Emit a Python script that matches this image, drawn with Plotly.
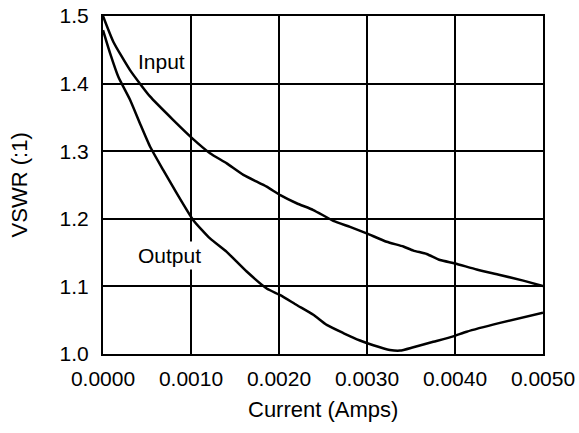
import plotly.graph_objects as go

input_x = [0, 0.000117, 0.000307, 0.000534, 0.000799, 0.001015, 0.001216, 0.001406, 0.001595, 0.00186,
           0.002015, 0.0022, 0.00239, 0.002617, 0.002807, 0.002996, 0.003223, 0.003413, 0.003527, 0.003678,
           0.00383, 0.004, 0.004246, 0.004511, 0.004776, 0.005]
input_y = [1.5, 1.462, 1.420, 1.381, 1.346, 1.319, 1.297, 1.282, 1.265, 1.2475,
           1.235, 1.223, 1.213, 1.197, 1.188, 1.1785, 1.166, 1.159, 1.153, 1.148,
           1.139, 1.134, 1.125, 1.117, 1.1085, 1.1006]

output_x = [0, 0.00008, 0.000174, 0.000307, 0.00042, 0.000534, 0.000685, 0.000837, 0.001026, 0.001216,
            0.001406, 0.001633, 0.00186, 0.002015, 0.0022, 0.00239, 0.002542, 0.00273, 0.00292, 0.003072,
            0.00326, 0.003375, 0.003527, 0.003753, 0.00398, 0.004133, 0.004511, 0.005]
output_y = [1.479, 1.445, 1.410, 1.376, 1.341, 1.307, 1.272, 1.238, 1.198, 1.171,
            1.151, 1.122, 1.097, 1.087, 1.0725, 1.058, 1.043, 1.031, 1.020, 1.013,
            1.006, 1.005, 1.010, 1.018, 1.026, 1.033, 1.046, 1.061]

x_ticks = [0, 0.001, 0.002, 0.003, 0.004, 0.005]
x_tick_text = ["0.0000", "0.0010", "0.0020", "0.0030", "0.0040", "0.0050"]
y_ticks = [1.0, 1.1, 1.2, 1.3, 1.4, 1.5]
y_tick_text = ["1.0", "1.1", "1.2", "1.3", "1.4", "1.5"]

FONT = "Liberation Sans, Arial, Helvetica, sans-serif"

fig = go.Figure()
fig.add_trace(go.Scatter(x=input_x, y=input_y, mode="lines", name="Input",
                         line=dict(color="black", width=2.5, shape="spline", smoothing=0.5),
                         cliponaxis=False, showlegend=False))
fig.add_trace(go.Scatter(x=output_x, y=output_y, mode="lines", name="Output",
                         line=dict(color="black", width=2.5, shape="spline", smoothing=0.5),
                         cliponaxis=False, showlegend=False))

fig.add_annotation(x=0.00067, y=1.432, text="Input", showarrow=False,
                   font=dict(family=FONT, size=21, color="black"), bgcolor="white", borderpad=0)
fig.add_annotation(x=0.000761, y=1.1464, text="Output", showarrow=False,
                   font=dict(family=FONT, size=21, color="black"), bgcolor="white", borderpad=2)

# axis titles
fig.add_annotation(xref="paper", yref="paper", x=0.5, y=-0.165, text="Current (Amps)",
                   showarrow=False, xanchor="center", yanchor="middle",
                   font=dict(family=FONT, size=22, color="black"))
fig.add_annotation(xref="paper", yref="paper", x=-0.19, y=0.5, text="VSWR (:1)", textangle=-90,
                   showarrow=False, xanchor="center", yanchor="middle",
                   font=dict(family=FONT, size=22, color="black"))

axis_common = dict(showgrid=True, gridcolor="black", gridwidth=1.5, showline=True, linecolor="black",
                   linewidth=2, mirror=True, zeroline=False, ticks="", automargin=False,
                   tickfont=dict(family=FONT, size=21, color="black"))

fig.update_xaxes(range=[0, 0.005], tickvals=x_ticks, ticktext=x_tick_text,
                 ticklabelstandoff=5, **axis_common)
fig.update_yaxes(range=[1.0, 1.5], tickvals=y_ticks, ticktext=y_tick_text,
                 ticklabelstandoff=8, **axis_common)

fig.update_layout(width=579, height=433, margin=dict(l=103, r=36, t=16, b=79),
                  plot_bgcolor="white", paper_bgcolor="white",
                  font=dict(family=FONT, size=21, color="black"))

fig.write_html("out.html", config={"displayModeBar": False},
               post_script="document.body.style.margin='0px';document.body.style.overflow='hidden';")
